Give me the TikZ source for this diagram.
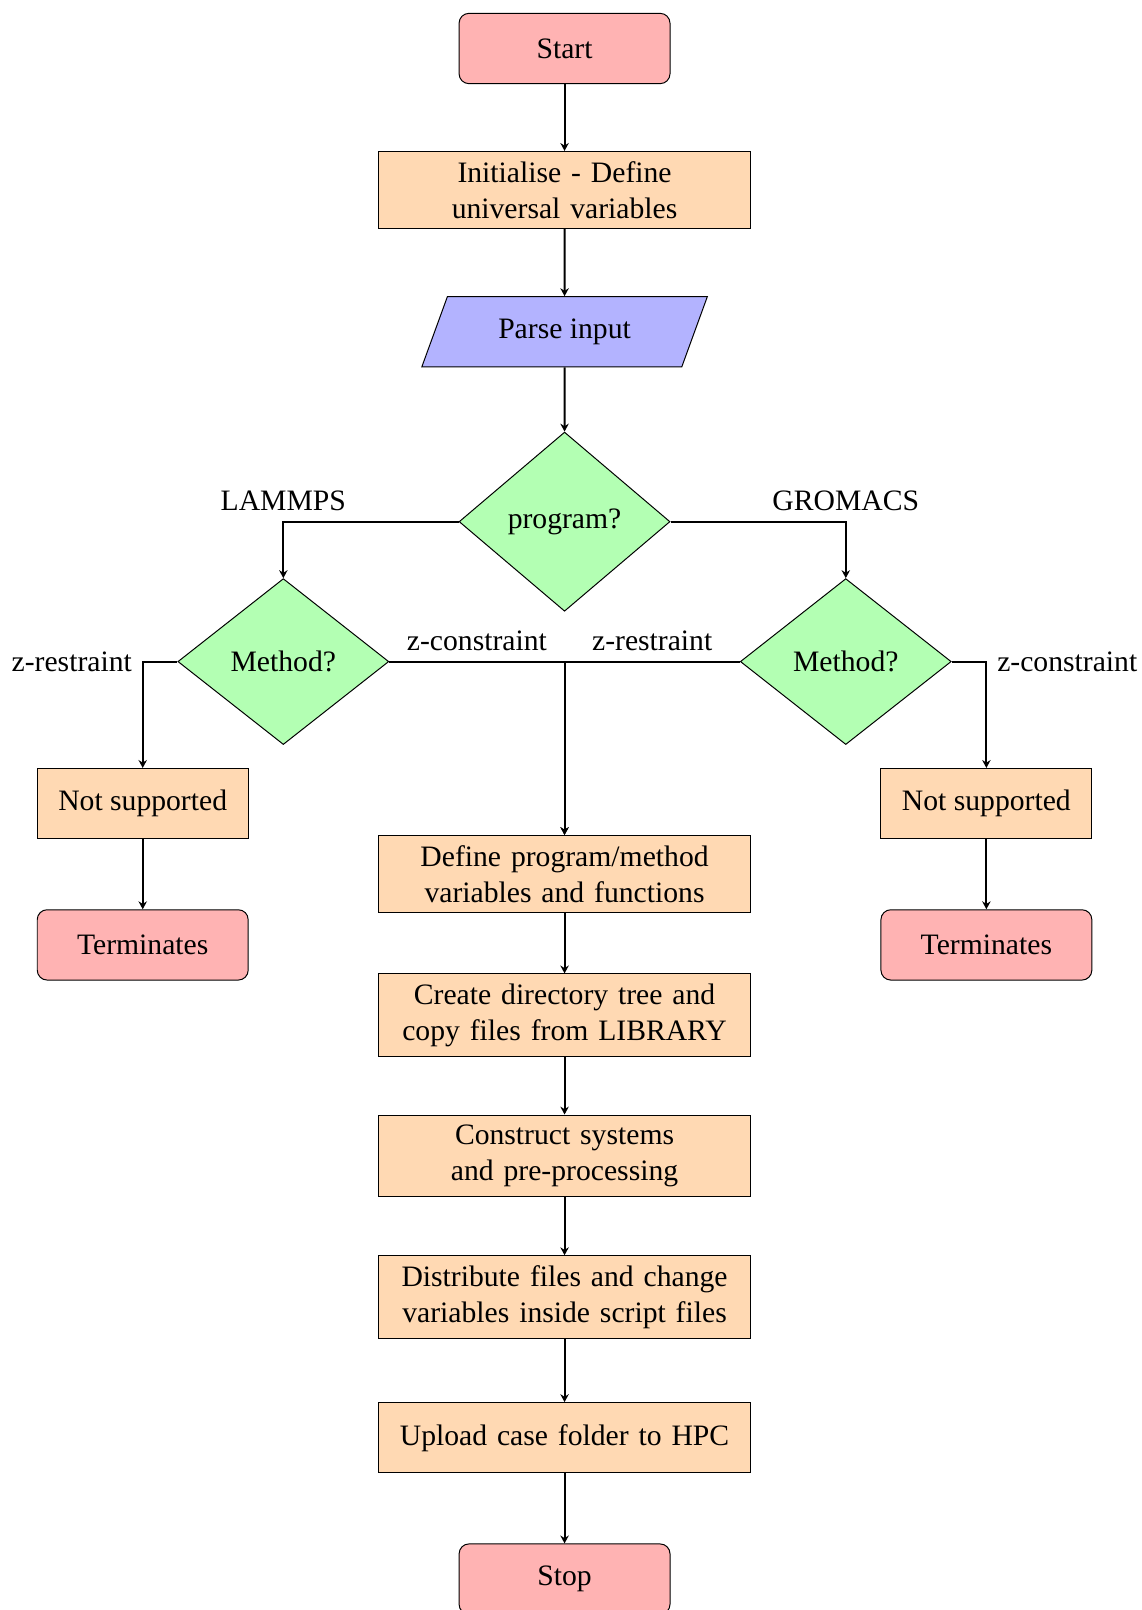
\documentclass[tikz,border=0pt,12pt]{standalone}
\usepackage{fontspec}
\setmainfont{Liberation Serif}
\usepackage{xcolor}
\usepackage{tikz}
\usetikzlibrary{arrows.meta,shapes.geometric}
\definecolor{flowStop}{HTML}{FFB3B3}
\definecolor{flowStep}{HTML}{FFD9B3}
\definecolor{flowInput}{HTML}{B3B3FF}
\definecolor{flowChoice}{HTML}{B3FFB3}
\tikzset{
    flow/startstop/.style={
        rectangle, rounded corners,
        draw=black, fill=flowStop,
        minimum width=3cm, minimum height=1cm,
        align=center
    },
    flow/process/.style={
        rectangle, draw=black, fill=flowStep,
        text width=5cm, minimum height=1cm,
        align=center
    },
    flow/sidestep/.style={
        rectangle, draw=black, fill=flowStep,
        minimum width=3cm, minimum height=1cm,
        align=center
    },
    flow/io/.style={
        trapezium, trapezium left angle=70, trapezium right angle=110,
        draw=black, fill=flowInput,
        minimum width=3cm, minimum height=1cm,
        align=center
    },
    flow/decision/.style={
        diamond, draw=black, fill=flowChoice,
        minimum width=3cm, minimum height=1cm,
        align=center
    },
    flow/arrow/.style={
        thick, -{Stealth[length=3.2pt,width=3.4pt]}
    }
}

\begin{document}
\begin{tikzpicture}
    \useasboundingbox (-8.03,0.69) rectangle (8.21,-22.21);

    % main column
    \node[flow/startstop] (start) at (0,0) {Start};
    \node[flow/process] (init) at (0,-2.01)
        {Initialise - Define\\universal variables};
    \node[flow/io] (parse) at (0,-4.03) {Parse input};
    \node[flow/decision] (program) at (0,-6.73) {program?};

    % one method question per program
    \node[flow/decision] (methodL) at (-4,-8.72) {Method?};
    \node[flow/decision] (methodR) at (4,-8.72) {Method?};

    \node[flow/sidestep] (nosupL) at (-6,-10.74) {Not supported};
    \node[flow/sidestep] (nosupR) at (6,-10.74) {Not supported};
    \node[flow/startstop] (termL) at (-6,-12.75) {Terminates};
    \node[flow/startstop] (termR) at (6,-12.75) {Terminates};

    \node[flow/process] (define) at (0,-11.74)
        {Define program/method\\variables and functions};
    \node[flow/process] (create) at (0,-13.75)
        {Create directory tree and\\copy files from LIBRARY};
    \node[flow/process] (construct) at (0,-15.75)
        {Construct systems\\and pre-processing};
    \node[flow/process] (distribute) at (0,-17.76)
        {Distribute files and change\\variables inside script files};
    \node[flow/process] (upload) at (0,-19.76)
        {Upload case folder to HPC};
    \node[flow/startstop] (stop) at (0,-21.77) {Stop};

    \draw[flow/arrow] (start) -- (init);
    \draw[flow/arrow] (init) -- (parse);
    \draw[flow/arrow] (parse) -- (program);
    \draw[flow/arrow] (program.west) -| node[above] {LAMMPS} (methodL.north);
    \draw[flow/arrow] (program.east) -| node[above] {GROMACS} (methodR.north);
    \draw[flow/arrow] (methodL.west) -| node[left] {z-restraint} (nosupL.north);
    \draw[flow/arrow] (methodR.east) -| node[right] {z-constraint} (nosupR.north);
    \draw[flow/arrow] (methodL.east) -|
        node[pos=0.25, above] {z-constraint} (define.north);
    \draw[flow/arrow] (methodR.west) -|
        node[pos=0.25, above] {z-restraint} (define.north);
    \draw[flow/arrow] (nosupL) -- (termL);
    \draw[flow/arrow] (nosupR) -- (termR);
    \draw[flow/arrow] (define) -- (create);
    \draw[flow/arrow] (create) -- (construct);
    \draw[flow/arrow] (construct) -- (distribute);
    \draw[flow/arrow] (distribute) -- (upload);
    \draw[flow/arrow] (upload) -- (stop);
\end{tikzpicture}
\end{document}
